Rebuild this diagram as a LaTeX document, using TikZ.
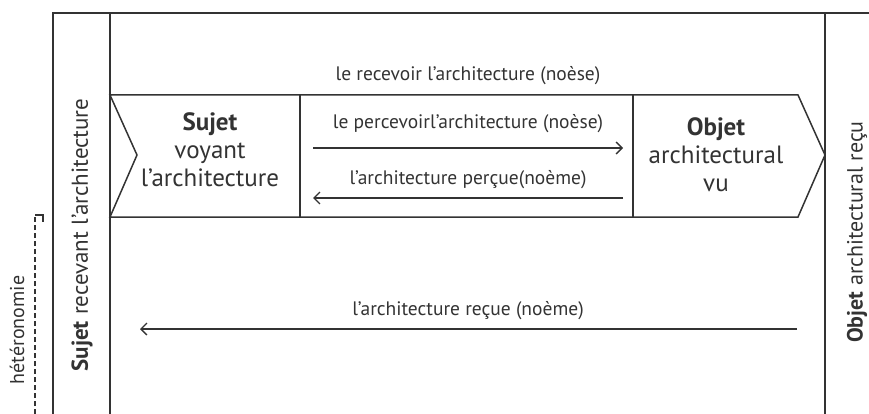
\documentclass[tikz,border=0pt]{standalone}
\usepackage{fontspec}
\setmainfont{PT Sans}
\usepackage{tikz}
\usetikzlibrary{arrows.meta,positioning}

\begin{document}
\begin{tikzpicture}[x=1pt,y=-1pt,line width=1.5pt,color=black!80,
  fleche/.style={-{Straight Barb[length=6pt,width=12pt]},line width=1.3pt},
  petit/.style={font=\fontsize{19.5}{22}\selectfont},
  grand/.style={font=\fontsize{25}{28}\selectfont,align=center},
  debout/.style={rotate=90,font=\fontsize{23}{26}\selectfont}]
\useasboundingbox (0,0) rectangle (869,414);
% cadre
\draw (869,13)--(53,13)--(53,414);
\draw (110,13)--(110,414);
\draw (825,13)--(825,414);
% bande centrale
\draw (110,95)--(798,95)--(825,155)--(798,217)--(110,217)--(137,155)--cycle;
\draw (300,95)--(300,217);
\draw (633,95)--(633,217);
\node[grand] (sujet) at (210,150) {\textbf{Sujet}\\voyant\\l'architecture};
\node[grand] (objet) at (716,155) {\textbf{Objet}\\architectural\\vu};
\node[petit] (recevoir) at (468,76) {le recevoir l'architecture (noèse)};
% fleches
\coordinate (p1) at (313,148);
\coordinate (p2) at (623,148);
\coordinate (q1) at (623,198);
\coordinate (q2) at (313,198);
\coordinate (r1) at (797,329);
\coordinate (r2) at (140,329);
\draw[fleche] (p1)--(p2);
\draw[fleche] (q1)--(q2);
\draw[fleche] (r1)--(r2);
\node[petit] (percevoir) at (468,124) {le percevoirl'architecture (noèse)};
\node[petit] (percue) at (468,180) {l'architecture perçue(noème)};
\node[petit] (recue) at (468,311) {l'architecture reçue (noème)};
% textes verticaux
\node[debout] (recevant) at (82,235) {\textbf{Sujet} recevant l'architecture};
\node[debout,font=\fontsize{22}{24}\selectfont] (recu) at (857,232) {\textbf{Objet} architectural reçu};
\node[debout,font=\fontsize{20}{22}\selectfont] (hetero) at (17,330) {hétéronomie};
\coordinate (h1) at (35,215);
\coordinate (h2) at (35,414);
\draw[dash pattern=on 5pt off 3pt,line width=1.2pt] (h2)--(h1);
\draw[line width=1.2pt] (h1)-|(43,222);
\end{tikzpicture}
\end{document}
